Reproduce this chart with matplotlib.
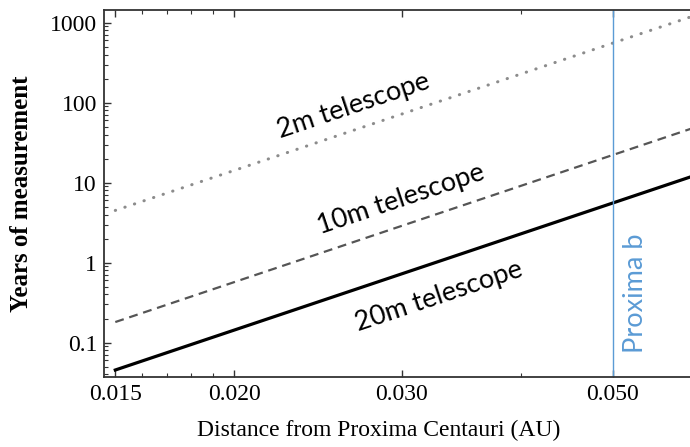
import matplotlib.pyplot as plt
from matplotlib.ticker import FixedLocator, NullFormatter, LogLocator

# values
distance = [0.015, 0.0603]
years_2m = [4.5, 1180]
years_10m = [0.181, 47]
years_20m = [0.0455, 11.8]

proxima_b = 0.05

x_major = [0.015, 0.020, 0.030, 0.050]
x_major_labels = ['0.015', '0.020', '0.030', '0.050']
x_minor = [0.016, 0.017, 0.018, 0.019, 0.040]
y_major = [0.1, 1, 10, 100, 1000]
y_major_labels = ['0.1', '1', '10', '100', '1000']

serif = 'Liberation Serif'
sans = 'Lato'

fig = plt.figure(figsize=(6.9, 4.47), dpi=100)
ax = fig.add_axes([0.1507, 0.1566, 0.8565, 0.821])

ax.plot(distance, years_2m, color='#8c8c8c', lw=2.2, linestyle=(0, (0.1, 3.2)),
        dash_capstyle='round')
ax.plot(distance, years_10m, color='#555555', lw=1.6, linestyle=(0, (4, 2.6)))
ax.plot(distance, years_20m, color='black', lw=2.3)

ax.axvline(proxima_b, color='#5b9bd5', lw=1.0)

ax.set_xscale('log')
ax.set_yscale('log')
ax.set_xlim(0.014595, 0.06097)
ax.set_ylim(0.0372, 1442)

ax.xaxis.set_major_locator(FixedLocator(x_major))
ax.xaxis.set_minor_locator(FixedLocator(x_minor))
ax.set_xticklabels(x_major_labels)
ax.xaxis.set_minor_formatter(NullFormatter())
ax.yaxis.set_major_locator(FixedLocator(y_major))
ax.set_yticklabels(y_major_labels)
ax.yaxis.set_minor_locator(LogLocator(base=10, subs=range(2, 10), numticks=20))
ax.yaxis.set_minor_formatter(NullFormatter())

ax.tick_params(which='both', direction='in', top=True, right=False, color='#333333')
ax.tick_params(which='major', length=5, width=1, pad=5, labelsize=17)
ax.tick_params(which='minor', length=3, width=0.8)
for lab in ax.get_xticklabels() + ax.get_yticklabels():
    lab.set_fontfamily(serif)

for side in ['left', 'bottom', 'top']:
    ax.spines[side].set_color('#333333')
    ax.spines[side].set_linewidth(1.3)
ax.spines['right'].set_visible(False)

ax.set_xlabel('Distance from Proxima Centauri (AU)', family=serif, fontsize=17)
ax.set_ylabel('Years of measurement', family=serif, fontsize=18, fontweight='bold')
ax.xaxis.set_label_coords((379 - 104) / 591, -(420 - 377) / 367)
ax.yaxis.set_label_coords(-(104 - 33) / 591, 0.5)

ax.text(0.02667, 91, '2m telescope', family=sans, fontsize=19.5, rotation=18.5,
        ha='center', va='center')
ax.text(0.0299, 6.26, '10m telescope', family=sans, fontsize=19.5, rotation=18.5,
        ha='center', va='center')
ax.text(0.0328, 0.384, '20m telescope', family=sans, fontsize=19.5, rotation=18.5,
        ha='center', va='center')
ax.text(0.05284, 0.418, 'Proxima b', family=sans, fontsize=19.5, rotation=90,
        ha='center', va='center', color='#5b9bd5')

fig.savefig('out.png', dpi=100)
